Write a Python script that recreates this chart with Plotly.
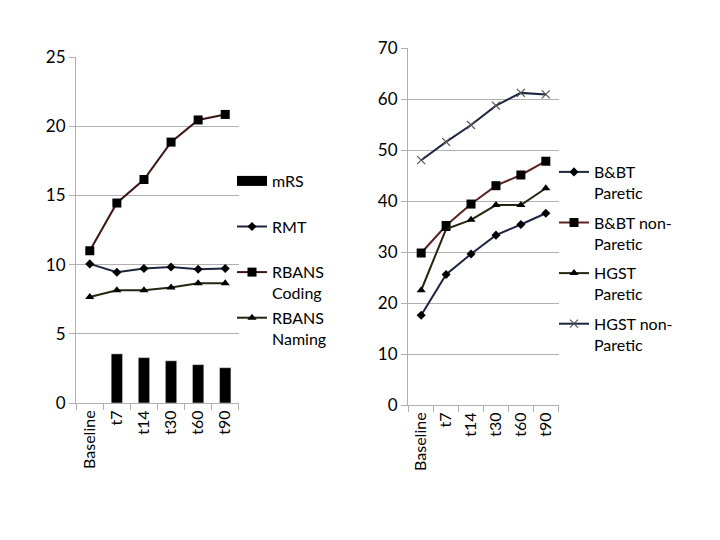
import plotly.graph_objects as go

categories = ["Baseline", "t7", "t14", "t30", "t60", "t90"]

# Left panel
mrs = [None, 3.55, 3.28, 3.05, 2.77, 2.55]
rmt = [10.05, 9.45, 9.72, 9.83, 9.66, 9.72]
rbans_coding = [11.0, 14.45, 16.15, 18.85, 20.45, 20.85]
rbans_naming = [7.66, 8.15, 8.15, 8.35, 8.65, 8.65]

# Right panel
bbt_paretic = [17.6, 25.6, 29.6, 33.3, 35.4, 37.6]
bbt_nonparetic = [29.8, 35.2, 39.4, 43.0, 45.1, 47.8]
hgst_paretic = [22.5, 34.5, 36.3, 39.2, 39.2, 42.5]
hgst_nonparetic = [48.0, 51.6, 54.9, 58.7, 61.2, 60.9]

W, H = 720, 540
OFF = 8  # page body margin offset
FONT = "Lato"
NAVY = "#1d2540"
MAROON = "#3e1414"
MAROON2 = "#5a2323"
OLIVE = "#25250f"
GRID = "#b0b0b0"


def px(x):
    return (x - OFF) / W


def py(y):
    return 1 - (y - OFF) / H


fig = go.Figure()

# Left traces
fig.add_trace(go.Bar(x=categories, y=mrs, name="mRS", marker_color="black",
                     xaxis="x", yaxis="y", showlegend=False))
# legend entry for the bars, drawn as a wide black block like the original
fig.add_trace(go.Scatter(x=[None], y=[None], name="mRS<br> ", mode="lines",
                         line=dict(color="black", width=11),
                         xaxis="x", yaxis="y", legend="legend", legendgroup="a"))
fig.add_trace(go.Scatter(x=categories, y=rmt, name="RMT<br> ", mode="lines+markers",
                         line=dict(color=NAVY, width=2),
                         marker=dict(symbol="diamond", size=7, color="black"),
                         xaxis="x", yaxis="y", legend="legend", legendgroup="b"))
fig.add_trace(go.Scatter(x=categories, y=rbans_coding, name="RBANS<br>Coding", mode="lines+markers",
                         line=dict(color=MAROON, width=2),
                         marker=dict(symbol="square", size=9, color="black"),
                         xaxis="x", yaxis="y", legend="legend", legendgroup="c"))
fig.add_trace(go.Scatter(x=categories, y=rbans_naming, name="RBANS<br>Naming", mode="lines+markers",
                         line=dict(color=OLIVE, width=2),
                         marker=dict(symbol="triangle-up", size=8, color="black"),
                         xaxis="x", yaxis="y", legend="legend", legendgroup="d"))

# Right traces
fig.add_trace(go.Scatter(x=categories, y=bbt_paretic, name="B&BT<br>Paretic", mode="lines+markers",
                         line=dict(color=NAVY, width=2),
                         marker=dict(symbol="diamond", size=7, color="black"),
                         xaxis="x2", yaxis="y2", legend="legend2", legendgroup="e"))
fig.add_trace(go.Scatter(x=categories, y=bbt_nonparetic, name="B&BT non-<br>Paretic", mode="lines+markers",
                         line=dict(color=MAROON2, width=2),
                         marker=dict(symbol="square", size=9, color="black"),
                         xaxis="x2", yaxis="y2", legend="legend2", legendgroup="f"))
fig.add_trace(go.Scatter(x=categories, y=hgst_paretic, name="HGST<br>Paretic", mode="lines+markers",
                         line=dict(color=OLIVE, width=2),
                         marker=dict(symbol="triangle-up", size=8, color="black"),
                         xaxis="x2", yaxis="y2", legend="legend2", legendgroup="g"))
fig.add_trace(go.Scatter(x=categories, y=hgst_nonparetic, name="HGST non-<br>Paretic", mode="lines+markers",
                         line=dict(color=NAVY, width=2),
                         marker=dict(symbol="x-thin", size=8, color="#555555",
                                     line=dict(color="#555555", width=1.2)),
                         xaxis="x2", yaxis="y2", legend="legend2", legendgroup="h"))

xcommon = dict(type="category", showgrid=False, showline=True, linecolor=GRID, linewidth=1,
               ticks="outside", tickson="boundaries", ticklen=6, tickcolor=GRID,
               tickangle=-90, tickfont=dict(family=FONT, size=16, color="black"),
               fixedrange=True, automargin=False)
ycommon = dict(showgrid=True, gridcolor=GRID, gridwidth=1, showline=True, linecolor=GRID,
               linewidth=1, ticks="outside", ticklen=6, tickcolor=GRID, zeroline=False,
               automargin=False,
               tickfont=dict(family=FONT, size=17, color="black"))

fig.update_layout(
    width=W, height=H,
    margin=dict(l=0, r=0, t=0, b=0),
    paper_bgcolor="white", plot_bgcolor="white",
    font=dict(family=FONT, size=16, color="black"),
    bargap=0.58,
    xaxis=dict(domain=[px(76), px(239)], anchor="y", **xcommon),
    yaxis=dict(domain=[py(403), py(57)], anchor="x", range=[0, 25],
               dtick=5, **ycommon),
    xaxis2=dict(domain=[px(408), px(559)], anchor="y2", **xcommon),
    yaxis2=dict(domain=[py(405), py(48)], anchor="x2", range=[0, 70],
                dtick=10, **ycommon),
    legend=dict(x=px(232), y=py(164), xanchor="left", yanchor="top",
                bgcolor="rgba(0,0,0,0)", font=dict(family=FONT, size=16),
                itemwidth=30, valign="top", tracegroupgap=1, traceorder="grouped"),
    legend2=dict(x=px(554), y=py(155), xanchor="left", yanchor="top",
                 bgcolor="rgba(0,0,0,0)", font=dict(family=FONT, size=16),
                 itemwidth=30, valign="top", tracegroupgap=6, traceorder="grouped"),
)

fig.write_html("out.html")
